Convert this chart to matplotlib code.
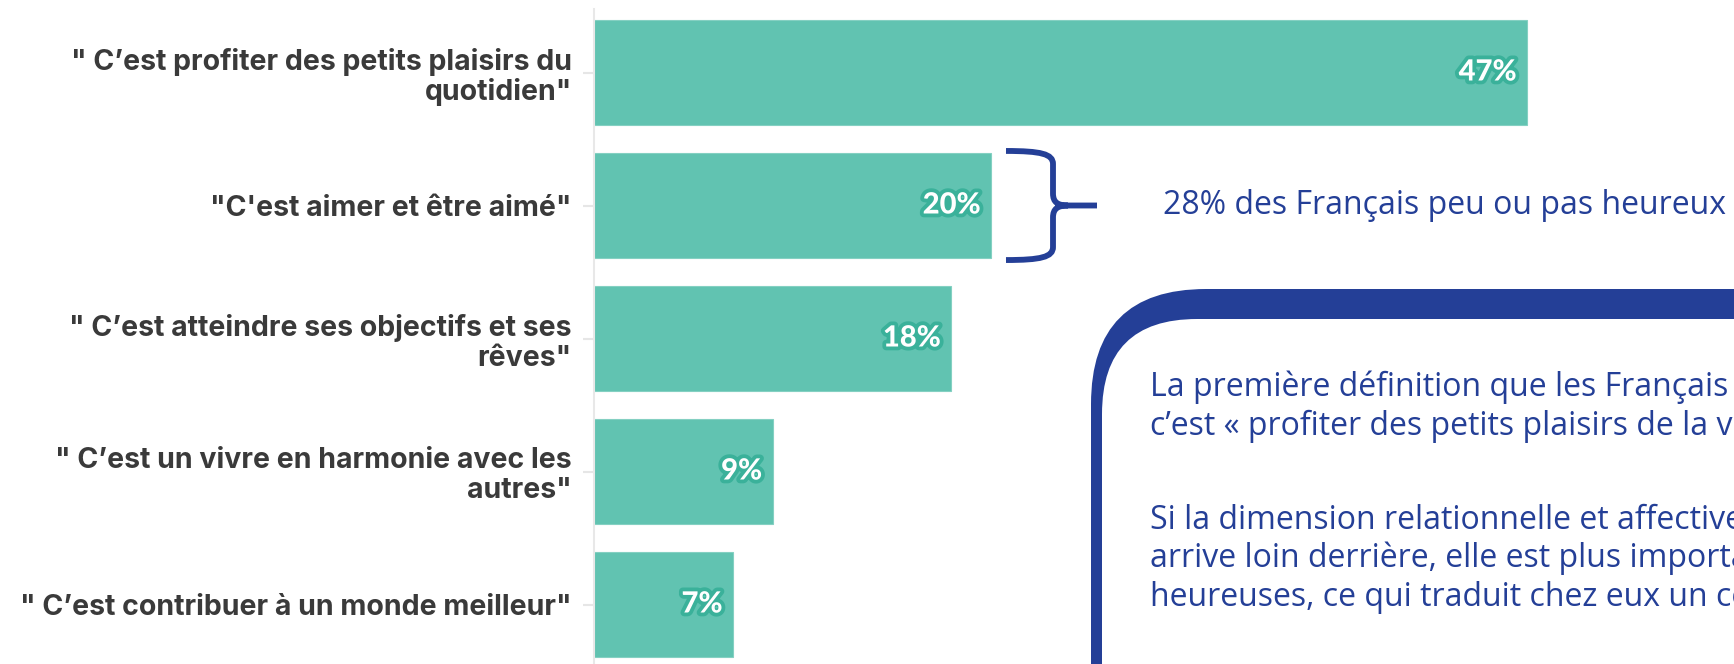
import matplotlib
matplotlib.use('Agg')
import matplotlib.pyplot as plt
import matplotlib.patheffects as pe
from matplotlib.patches import FancyBboxPatch, PathPatch
from matplotlib.path import Path
import numpy as np

# ---------------- data ----------------
categories = [
    '" C’est profiter des petits plaisirs du\nquotidien"',
    '"C\'est aimer et être aimé"',
    '" C’est atteindre ses objectifs et ses\nrêves"',
    '" C’est un vivre en harmonie avec les\nautres"',
    '" C’est contribuer à un monde meilleur"',
]
values = [47, 20, 18, 9, 7]
value_labels = ['47%', '20%', '18%', '9%', '7%']
brace_index = 1
brace_text = '28% des Français peu ou pas heureux'
box_lines = [
    'La première définition que les Français donnent du bonheur,',
    'c’est « profiter des petits plaisirs de la vie ».',
    '',
    'Si la dimension relationnelle et affective (« aimer et être aimé »)',
    'arrive loin derrière, elle est plus importante chez les personnes peu',
    'heureuses, ce qui traduit chez eux un certain manque.',
]

# ---------------- style ----------------
BAR = '#61c3b1'
BAR_EDGE = '#84d0c2'
LABEL_OUT = '#3ab19a'
NAVY = '#243f97'
TXT = '#3a3a3a'
NARROW = ['Open Sans', 'DejaVu Sans']

W, H = 1734, 664
fig = plt.figure(figsize=(W / 100, H / 100), dpi=100)
fig.patch.set_facecolor('white')

ax_left_px = 594
ppu = 19.85          # pixels per percentage point
pitch = 133.0        # pixels between bar centres
first_c = 72.5       # pixel (from top) of first bar centre

ax = fig.add_axes([ax_left_px / W, 0, 1 - ax_left_px / W, 1])
ax.set_xlim(0, (W - ax_left_px) / ppu)
ax.set_ylim((H - first_c) / pitch, -first_c / pitch)

y = np.arange(len(categories))
bar_h = 0.79
ax.barh(y, values, height=bar_h, color=BAR, edgecolor=BAR_EDGE,
        linewidth=0.8, zorder=2)

for i, (v, lab) in enumerate(zip(values, value_labels)):
    ax.annotate(lab, xy=(v, i), xytext=(-7.5, 0), textcoords='offset points',
                ha='right', va='center', color='white', fontsize=21,
                family='Lato', fontweight='black', zorder=3,
                path_effects=[pe.withStroke(linewidth=5.5, foreground=LABEL_OUT)])

ax.set_yticks(y)
ax.set_yticklabels(categories, family='Inter', fontweight='bold',
                   fontsize=20.5, color=TXT, linespacing=1.12)
ax.tick_params(axis='y', length=8, width=1.5, color='#e6e6e6', pad=8)
ax.set_xticks([])
for s in ['top', 'right', 'bottom']:
    ax.spines[s].set_visible(False)
ax.spines['left'].set_color('#e8e8e8')
ax.spines['left'].set_linewidth(1.5)
ax.spines['left'].set_bounds((H - first_c) / pitch, (9 - first_c) / pitch)

# ---------------- brace next to bar 2 ----------------
bx = values[brace_index] + 15 / ppu
yc = brace_index
half = (bar_h / 2) + 2 / pitch
def P(dx, dy):
    return (bx + dx / ppu, yc + dy / pitch)
hp = half * pitch
verts = [P(0, -hp), P(35, -hp), P(47, -hp + 3), P(47, -hp + 13),
         P(47, -12),
         P(47, -3), P(52, 0), P(62, 0),
         P(91, 0),
         P(0, hp), P(35, hp), P(47, hp - 3), P(47, hp - 13),
         P(47, 12),
         P(47, 3), P(52, 0), P(62, 0)]
codes = [Path.MOVETO, Path.CURVE4, Path.CURVE4, Path.CURVE4,
         Path.LINETO,
         Path.CURVE4, Path.CURVE4, Path.CURVE4,
         Path.LINETO,
         Path.MOVETO, Path.CURVE4, Path.CURVE4, Path.CURVE4,
         Path.LINETO,
         Path.CURVE4, Path.CURVE4, Path.CURVE4]
ax.add_patch(PathPatch(Path(verts, codes), fill=False, edgecolor=NAVY,
                       linewidth=4.2, capstyle='butt', joinstyle='round',
                       clip_on=False, zorder=4))
ax.text(values[brace_index] + 172 / ppu, yc, brace_text, ha='left',
        va='center', color=NAVY, fontsize=23, family=NARROW, zorder=4)

# ---------------- callout box (overlay, pixel coordinates) ----------------
ov = fig.add_axes([0, 0, 1, 1], zorder=5)
ov.set_xlim(0, W)
ov.set_ylim(H, 0)
ov.axis('off')
ov.patch.set_alpha(0)
ov.add_patch(FancyBboxPatch((1091, 289), 900, 600,
                            boxstyle='round,pad=0,rounding_size=115',
                            facecolor=NAVY, edgecolor='none'))
ov.add_patch(FancyBboxPatch((1102, 319), 900, 600,
                            boxstyle='round,pad=0,rounding_size=95',
                            facecolor='white', edgecolor='none'))
line_y = [387, 426, 473, 520, 558, 597]
for ly, t in zip(line_y, box_lines):
    if t:
        ov.text(1150, ly, t, ha='left', va='center', color=NAVY,
                fontsize=23, family=NARROW)

fig.savefig('out.png', dpi=100, facecolor='white')
